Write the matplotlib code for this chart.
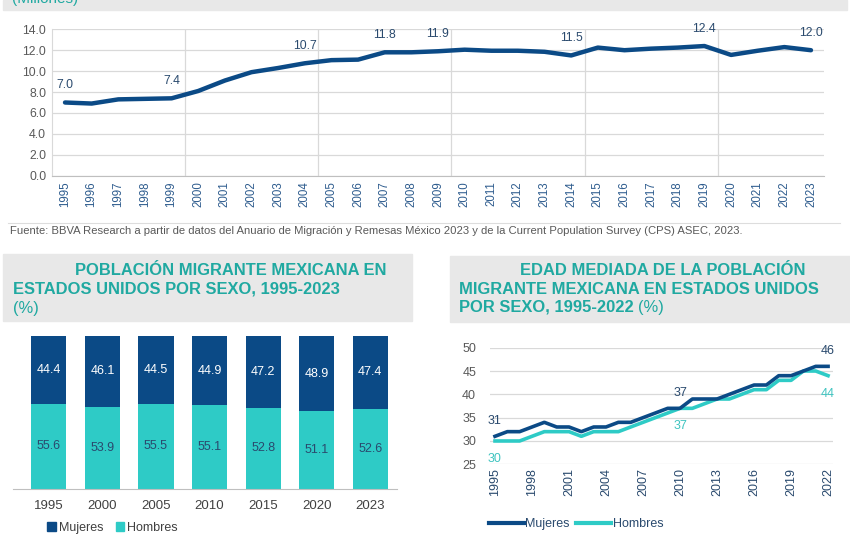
import matplotlib
matplotlib.use("Agg")
from matplotlib import pyplot as plt
from matplotlib.patches import Rectangle, Patch
from matplotlib.lines import Line2D

plt.rcParams['font.family'] = ['Liberation Sans', 'DejaVu Sans']

# ============== DATA ==================
years_total = [str(y) for y in range(1995, 2024)]
total = [7.0, 6.9, 7.3, 7.35, 7.4, 8.1, 9.1, 9.9, 10.3, 10.75, 11.05, 11.1, 11.8,
         11.8, 11.9, 12.05, 11.95, 11.95, 11.85, 11.5, 12.25, 12.0, 12.15, 12.25,
         12.4, 11.55, 11.95, 12.3, 12.0]
total_labels = {'1995': '7.0', '1999': '7.4', '2004': '10.7', '2007': '11.8',
                '2009': '11.9', '2014': '11.5', '2019': '12.4', '2023': '12.0'}

bar_years = ['1995', '2000', '2005', '2010', '2015', '2020', '2023']
mujeres_pct = [44.4, 46.1, 44.5, 44.9, 47.2, 48.9, 47.4]
hombres_pct = [55.6, 53.9, 55.5, 55.1, 52.8, 51.1, 52.6]

years_age = [str(y) for y in range(1995, 2023)]
mujeres_age = [31, 32, 32, 33, 34, 33, 33, 32, 33, 33, 34, 34, 35, 36, 37, 37,
               39, 39, 39, 40, 41, 42, 42, 44, 44, 45, 46, 46]
hombres_age = [30, 30, 30, 31, 32, 32, 32, 31, 32, 32, 32, 33, 34, 35, 36, 37,
               37, 38, 39, 39, 40, 41, 41, 43, 43, 45, 45, 44]
age_labels_m = {'1995': '31', '2010': '37', '2022': '46'}
age_labels_h = {'1995': '30', '2010': '37', '2022': '44'}

# ============== STYLE ==================
navy = '#0B4A86'
aqua = '#2ECBC6'
teal_title = '#20A9A1'
grid_c = '#D9D9D9'
label_blue = '#2A4A6E'
gray_txt = '#595959'

W, H = 850, 550
fig = plt.figure(figsize=(8.5, 5.5), dpi=100)


def fx(px):
    return px / W


def fy(py):
    return 1 - py / H


def box(x0, y0, x1, y1):
    fig.patches.append(Rectangle((fx(x0), fy(y1)), fx(x1 - x0), (y1 - y0) / H,
                                 transform=fig.transFigure, color='#E8E8E8', zorder=0))


# headers
box(3, 0, 847, 10)
fig.text(fx(12), fy(-1), '(Millones)', color=teal_title, fontsize=11, va='center')
box(3, 254, 412, 321)
box(450, 256, 850, 322)

# ============== TOP: TOTAL ==================
ax = fig.add_axes([fx(51.7), fy(175.7), fx(824.3 - 51.7), (175.7 - 29.3) / H])
x = list(range(len(years_total)))
ax.plot(x, total, color=navy, lw=3.2, solid_capstyle='round', zorder=3)
for i, yr in enumerate(years_total):
    if yr in total_labels:
        ax.annotate(total_labels[yr], (i, total[i]), xytext=(0, 12.3),
                    textcoords='offset points', ha='center', va='center',
                    fontsize=8.8, color=label_blue)
ax.set_xlim(-0.5, len(x) - 0.5)
ax.set_ylim(0, 14)
ax.set_yticks(range(0, 15, 2))
ax.set_yticklabels([f'{v:.1f}' for v in range(0, 15, 2)], fontsize=8.8, color=gray_txt)
ax.set_xticks(x)
ax.set_xticklabels(years_total, rotation=90, fontsize=8.3, color='#2E5C8E')
ax.tick_params(length=0, pad=4)
ax.grid(axis='y', color=grid_c, lw=0.9)
for v in [4.5, 9.5, 14.5, 19.5, 24.5]:
    ax.axvline(v, color=grid_c, lw=0.9, zorder=1)
ax.set_axisbelow(True)
for s in ['top', 'right']:
    ax.spines[s].set_visible(False)
ax.spines['left'].set_color(grid_c)
ax.spines['bottom'].set_color('#BFBFBF')

# source
fig.add_artist(Line2D([fx(8), fx(840)], [fy(222.5), fy(222.5)], color='#DDDDDD', lw=0.8))
fig.text(fx(10), fy(231.5), 'Fuente: BBVA Research a partir de datos del Anuario de Migración y '
         'Remesas México 2023 y de la Current Population Survey (CPS) ASEC, 2023.',
         fontsize=8.1, color=gray_txt, va='center')

# ============== BOTTOM LEFT: BARS ==================
fig.text(fx(75), fy(270), 'POBLACIÓN MIGRANTE MEXICANA EN', color=teal_title,
         fontsize=11.9, fontweight='bold', va='center')
fig.text(fx(13), fy(289), 'ESTADOS UNIDOS POR SEXO, 1995-2023', color=teal_title,
         fontsize=11.9, fontweight='bold', va='center')
fig.text(fx(13), fy(308), '(%)', color=teal_title, fontsize=11.9, va='center')

axb = fig.add_axes([fx(13), fy(488.7), fx(397 - 13), (488.7 - 336.3) / H])
xb = list(range(len(bar_years)))
axb.bar(xb, hombres_pct, width=0.655, color=aqua)
axb.bar(xb, mujeres_pct, width=0.655, bottom=hombres_pct, color=navy)
for i in xb:
    axb.text(i, hombres_pct[i] / 2, f'{hombres_pct[i]:.1f}', ha='center', va='center',
             fontsize=9, color=label_blue)
    axb.text(i, hombres_pct[i] + mujeres_pct[i] / 2, f'{mujeres_pct[i]:.1f}',
             ha='center', va='center', fontsize=9, color='white')
axb.set_xlim(-0.67, 6.5)
axb.set_ylim(0, 100)
axb.set_yticks([])
axb.set_xticks(xb)
axb.set_xticklabels(bar_years, fontsize=9.5, color='#404040')
axb.tick_params(length=0, pad=8)
for s in ['top', 'right', 'left']:
    axb.spines[s].set_visible(False)
axb.spines['bottom'].set_color('#BFBFBF')
fig.legend(handles=[Patch(color=navy, label='Mujeres'), Patch(color=aqua, label='Hombres')],
           loc='center left', bbox_to_anchor=(fx(36), fy(528)), ncol=2, frameon=False,
           fontsize=9, handlelength=0.7, handleheight=0.7, handletextpad=0.2,
           columnspacing=1.0, labelcolor='#404040')

# ============== BOTTOM RIGHT: AGE ==================
fig.text(fx(520), fy(270), 'EDAD MEDIADA DE LA POBLACIÓN', color=teal_title,
         fontsize=11.9, fontweight='bold', va='center')
fig.text(fx(459), fy(289), 'MIGRANTE MEXICANA EN ESTADOS UNIDOS', color=teal_title,
         fontsize=11.9, fontweight='bold', va='center')
t = fig.text(fx(459), fy(307.5), 'POR SEXO, 1995-2022 ', color=teal_title,
             fontsize=11.9, fontweight='bold', va='center')
fig.canvas.draw()
bb = t.get_window_extent()
fig.text(bb.x1 / W, fy(307.5), '(%)', color=teal_title, fontsize=11.9, va='center')

axl = fig.add_axes([fx(490), fy(464.3), fx(833 - 490), (464.3 - 347.7) / H])
xa = list(range(len(years_age)))
axl.plot(xa, mujeres_age, color=navy, lw=2.6, zorder=3)
axl.plot(xa, hombres_age, color=aqua, lw=2.6, zorder=2)
for i, yr in enumerate(years_age):
    if yr in age_labels_m:
        axl.annotate(age_labels_m[yr], (i, mujeres_age[i]), xytext=(0, 11),
                     textcoords='offset points', ha='center', va='center',
                     fontsize=9, color=label_blue)
    if yr in age_labels_h:
        axl.annotate(age_labels_h[yr], (i, hombres_age[i]), xytext=(0, -13),
                     textcoords='offset points', ha='center', va='center',
                     fontsize=9, color='#3FC4C0')
axl.set_xlim(-0.405, 27.4)
axl.set_ylim(25, 50)
axl.set_yticks(range(25, 51, 5))
axl.set_yticklabels([str(v) for v in range(25, 51, 5)], fontsize=9, color=gray_txt)
axl.set_xticks(xa[::3])
axl.set_xticklabels(years_age[::3], rotation=90, fontsize=9, color=label_blue)
axl.tick_params(length=0, pad=3)
axl.tick_params(axis='y', pad=10)
axl.grid(axis='y', color=grid_c, lw=0.9)
axl.set_axisbelow(True)
for s in ['top', 'right', 'left', 'bottom']:
    axl.spines[s].set_visible(False)
fig.legend(handles=[Line2D([], [], color=navy, lw=3, label='Mujeres'),
                    Line2D([], [], color=aqua, lw=3, label='Hombres')],
           loc='center left', bbox_to_anchor=(fx(478), fy(524)), ncol=2, frameon=False,
           fontsize=9, handlelength=2.8, handletextpad=0.1, columnspacing=0.5,
           labelcolor=label_blue)

fig.savefig('out.png', dpi=100)
